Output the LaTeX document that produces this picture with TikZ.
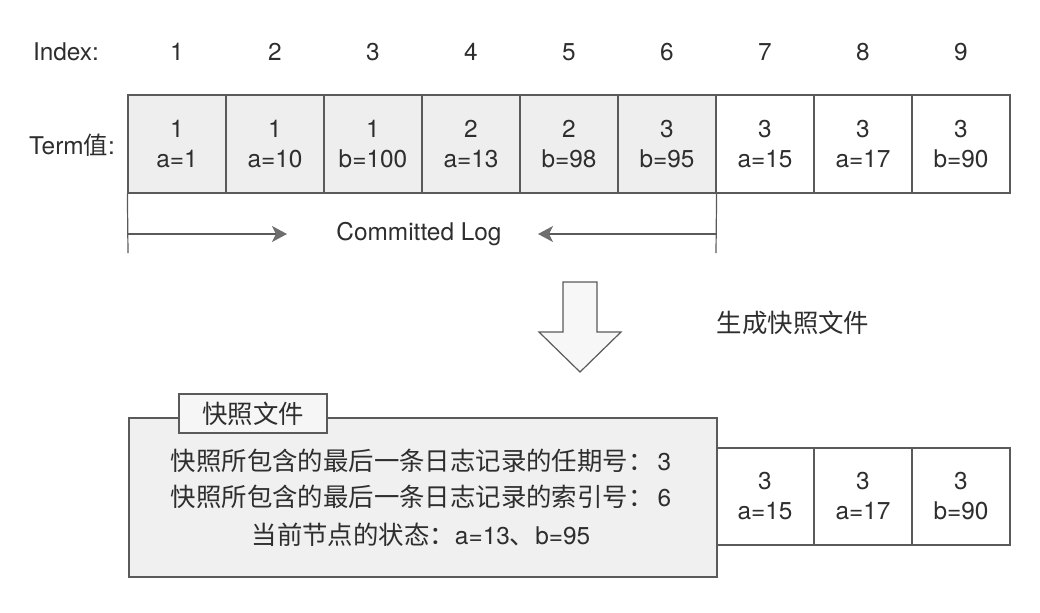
\documentclass[tikz,border=0pt]{standalone}
\usepackage{fontspec}
\setmainfont{TeX Gyre Heros}
\newfontfamily\cjk{Noto Sans CJK SC}
\usetikzlibrary{arrows.meta}
\definecolor{linegray}{HTML}{5A5A5A}
\definecolor{textgray}{HTML}{2E2E2E}
\definecolor{tipgray}{HTML}{6E6E6E}
\definecolor{donefill}{HTML}{EEEEEE}
\definecolor{boxfill}{HTML}{F0F0F0}
\tikzset{
	logcell/.style={draw=linegray,line width=0.6pt,minimum width=49pt,minimum height=49pt,inner sep=0pt,align=center,text=textgray,font=\fontsize{12.2}{15}\selectfont},
	donecell/.style={logcell,fill=donefill},
	opencell/.style={logcell,fill=white},
	plain/.style={text=textgray,inner sep=0pt,font=\fontsize{12.2}{15}\selectfont},
	cjktext/.style={text=textgray,inner sep=0pt,font=\cjk\fontsize{12.7}{15}\selectfont},
	commit/.style={draw=linegray,line width=0.6pt,-{Stealth[length=7.5pt,width=8pt,inset=2pt,color=tipgray]}}
}
\begin{document}
\begin{tikzpicture}[x=0.5pt,y=-0.5pt]
	\useasboundingbox (0,0) rectangle (1040,612);
	% Kopfzeile
	\node[plain] (idx) at (66,52) {Index:};
	\node[plain] (term) at (72,145) {Term{\cjk 值}:};
	\node[plain] (i1) at (177,52) {1};
	\node[plain] (i2) at (275,52) {2};
	\node[plain] (i3) at (373,52) {3};
	\node[plain] (i4) at (471,52) {4};
	\node[plain] (i5) at (569,52) {5};
	\node[plain] (i6) at (667,52) {6};
	\node[plain] (i7) at (765,52) {7};
	\node[plain] (i8) at (863,52) {8};
	\node[plain] (i9) at (961,52) {9};
	% Log-Eintraege
	\node[donecell] (c1) at (177,144) {1\\a=1};
	\node[donecell] (c2) at (275,144) {1\\a=10};
	\node[donecell] (c3) at (373,144) {1\\b=100};
	\node[donecell] (c4) at (471,144) {2\\a=13};
	\node[donecell] (c5) at (569,144) {2\\b=98};
	\node[donecell] (c6) at (667,144) {3\\b=95};
	\node[opencell] (c7) at (765,144) {3\\a=15};
	\node[opencell] (c8) at (863,144) {3\\a=17};
	\node[opencell] (c9) at (961,144) {3\\b=90};
	% Committed Log
	\coordinate (cl) at (128,253);
	\coordinate (cr) at (716,253);
	\coordinate (tl) at (287,234);
	\coordinate (tr) at (538,234);
	\draw[linegray,line width=0.6pt] (c1.south west) to (cl);
	\draw[linegray,line width=0.6pt] (c6.south east) to (cr);
	\draw[commit] (c1.south west |- tl) to (tl);
	\draw[commit] (c6.south east |- tr) to (tr);
	\node[plain] (log) at (419,234) {Committed Log};
	% Pfeil
	\draw[linegray,line width=0.6pt,fill=white!97!black] (563,282) to (597,282) to (597,332) to (621,332) to (580,372) to (539,332) to (563,332) to cycle;
	\node[cjktext] (gen) at (793,323) {生成快照文件};
	% Snapshot
	\node[opencell,minimum height=48.5pt] (s7) at (765,496.5) {3\\a=15};
	\node[opencell,minimum height=48.5pt] (s8) at (863,496.5) {3\\a=17};
	\node[opencell,minimum height=48.5pt] (s9) at (961,496.5) {3\\b=90};
	\node[draw=linegray,line width=0.6pt,fill=boxfill,minimum width=294pt,minimum height=79.5pt,inner sep=0pt] (snap) at (423,497.5) {};
	\node[draw=linegray,line width=0.6pt,fill=boxfill!60!white,minimum width=74pt,minimum height=19.5pt,cjktext] (tab) at (253,413.5) {快照文件};
	\node[cjktext] (l1) at (421,461) {快照所包含的最后一条日志记录的任期号：{\rmfamily\fontsize{12.2}{15}\selectfont\,3}};
	\node[cjktext] (l2) at (421,497) {快照所包含的最后一条日志记录的索引号：{\rmfamily\fontsize{12.2}{15}\selectfont\,6}};
	\node[cjktext] (l3) at (421,535) {当前节点的状态：{\rmfamily\fontsize{12.2}{15}\selectfont a=13}、{\rmfamily\fontsize{12.2}{15}\selectfont b=95}};
\end{tikzpicture}
\end{document}
